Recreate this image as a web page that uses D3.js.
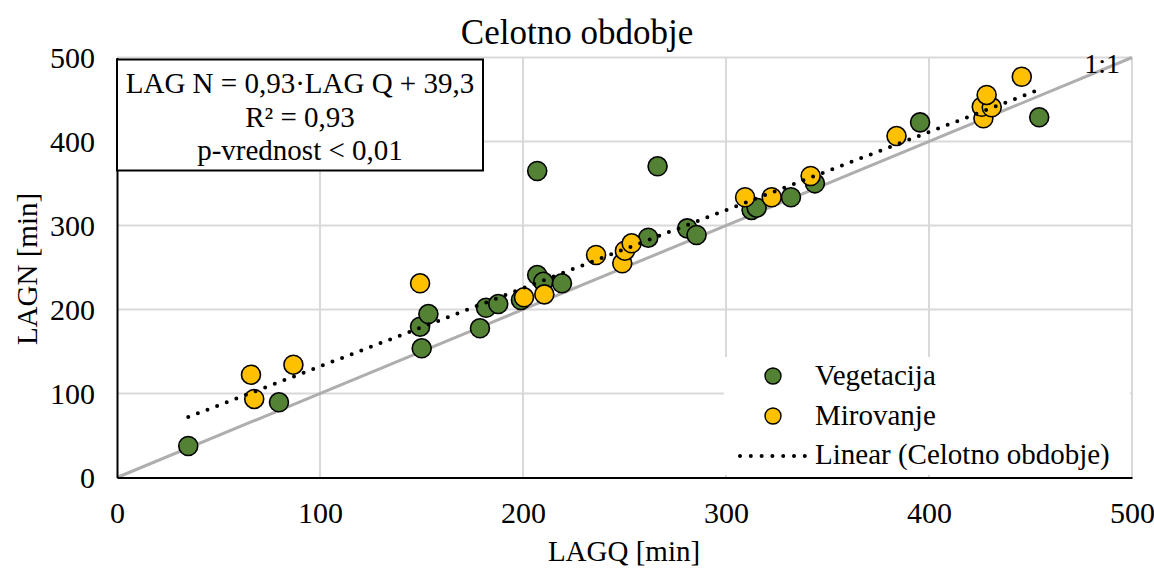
<!DOCTYPE html>
<html>
<head>
<meta charset="utf-8">
<script src="https://cdn.jsdelivr.net/npm/d3@7"></script>
<style>
  html, body { margin: 0; padding: 0; background: #fff; }
  svg { display: block; font-family: "Liberation Serif", "Times New Roman", serif; }
</style>
</head>
<body>
<svg id="chart" width="1154" height="568"></svg>
<script>
// ---- data ----
const vegX = [35.1, 79.8, 150.1, 149.3, 153.4, 178.8, 181.8, 187.8, 199.0, 207.0, 210.0, 219.2, 207.0, 266.3, 261.7, 280.9, 285.5, 312.6, 315.1, 332.0, 343.8, 395.6, 454.3];
const vegY = [37.5, 89.5, 153.8, 179.5, 194.6, 177.6, 202.1, 206.5, 211.3, 241.0, 233.0, 231.2, 364.9, 370.5, 285.5, 296.6, 288.7, 318.5, 321.2, 333.6, 350.2, 422.8, 428.8];
const mirX = [66.0, 67.6, 86.9, 149.3, 200.5, 210.5, 236.0, 248.9, 250.2, 253.5, 309.4, 322.5, 341.7, 384.0, 426.8, 426.0, 430.9, 428.4, 445.7];
const mirY = [122.4, 93.5, 134.3, 231.2, 214.5, 218.0, 264.9, 255.0, 270.0, 278.8, 333.6, 333.6, 358.9, 406.5, 427.6, 441.4, 440.7, 455.4, 477.1];
const xTicks = [0, 100, 200, 300, 400, 500];
const yTicks = [0, 100, 200, 300, 400, 500];
const trendSlope = 0.93;
const trendIntercept = 39.3;
const titleText = "Celotno obdobje";
const xLabel = "LAGQ [min]";
const yLabel = "LAGN [min]";
const eqLines = ["LAG N = 0,93\u00B7LAG Q + 39,3", "R\u00B2 = 0,93", "p-vrednost < 0,01"];
const legendLabels = ["Vegetacija", "Mirovanje", "Linear (Celotno obdobje)"];

// ---- layout ----
const svg = d3.select("#chart");
const L = 117, R = 1132, T = 57.5, B = 477.5;
const x = d3.scaleLinear().domain([0, 500]).range([L, R]);
const y = d3.scaleLinear().domain([0, 500]).range([B, T]);
const green = "#548235", yellow = "#FFC000";

// gridlines
svg.append("g").selectAll("line.v").data(xTicks.filter(d => d > 0)).join("line")
  .attr("x1", d => x(d)).attr("x2", d => x(d)).attr("y1", T).attr("y2", B)
  .attr("stroke", "#d9d9d9").attr("stroke-width", 2);
svg.append("g").selectAll("line.h").data(yTicks.filter(d => d > 0)).join("line")
  .attr("x1", L).attr("x2", R).attr("y1", d => y(d)).attr("y2", d => y(d))
  .attr("stroke", "#d9d9d9").attr("stroke-width", 2);

// 1:1 line
svg.append("line")
  .attr("x1", x(0)).attr("y1", y(0)).attr("x2", x(500)).attr("y2", y(500))
  .attr("stroke", "#b0adad").attr("stroke-width", 3);

// axes
const xAxis = d3.axisBottom(x).tickValues(xTicks).tickSize(0).tickPadding(0);
const gx = svg.append("g").attr("transform", `translate(0,${B})`).call(xAxis);
gx.select(".domain").attr("stroke", "#000").attr("stroke-width", 2);
gx.selectAll("text").attr("font-size", 30).attr("font-family", "Liberation Serif")
  .attr("fill", "#000").attr("y", 45).attr("dy", 0);

const yAxis = d3.axisLeft(y).tickValues(yTicks).tickSize(0).tickPadding(22);
const gy = svg.append("g").attr("transform", `translate(${L},0)`).call(yAxis);
gy.select(".domain").attr("stroke", "#000").attr("stroke-width", 2);
gy.selectAll("text").attr("font-size", 30).attr("font-family", "Liberation Serif")
  .attr("fill", "#000").attr("dy", "0.33em");

// label 1:1
svg.append("text").attr("x", 1120).attr("y", 73).attr("text-anchor", "end")
  .attr("font-size", 28).text("1:1");

// points
const veg = vegX.map((v, i) => ({x: v, y: vegY[i]}));
const mir = mirX.map((v, i) => ({x: v, y: mirY[i]}));
svg.append("g").selectAll("circle").data(veg).join("circle")
  .attr("cx", d => x(d.x)).attr("cy", d => y(d.y)).attr("r", 9.5)
  .attr("fill", green).attr("stroke", "#000").attr("stroke-width", 1.6);
svg.append("g").selectAll("circle").data(mir).join("circle")
  .attr("cx", d => x(d.x)).attr("cy", d => y(d.y)).attr("r", 9.5)
  .attr("fill", yellow).attr("stroke", "#000").attr("stroke-width", 1.6);

// trendline
const allX = vegX.concat(mirX);
const x0 = d3.min(allX), x1 = d3.max(allX);
svg.append("line")
  .attr("x1", x(x0)).attr("y1", y(trendSlope * x0 + trendIntercept))
  .attr("x2", x(x1)).attr("y2", y(trendSlope * x1 + trendIntercept))
  .attr("stroke", "#000").attr("stroke-width", 4)
  .attr("stroke-linecap", "round").attr("stroke-dasharray", "0,10.3");

// equation box
svg.append("rect").attr("x", 117).attr("y", 59.5).attr("width", 366).attr("height", 111)
  .attr("fill", "#fff").attr("stroke", "#000").attr("stroke-width", 2);
svg.append("g").selectAll("text").data(eqLines).join("text")
  .attr("x", 300).attr("y", (d, i) => [93, 127, 160][i])
  .attr("text-anchor", "middle").attr("font-size", 29).text(d => d);

// legend
svg.append("rect").attr("x", 724).attr("y", 357).attr("width", 406).attr("height", 118).attr("fill", "#fff");
const lg = svg.append("g");
[green, yellow].forEach((c, i) => {
  lg.append("circle").attr("cx", 773).attr("cy", 376 + i * 40).attr("r", 8)
    .attr("fill", c).attr("stroke", "#000").attr("stroke-width", 1.4);
});
lg.append("line").attr("x1", 740).attr("x2", 806).attr("y1", 456).attr("y2", 456)
  .attr("stroke", "#000").attr("stroke-width", 4)
  .attr("stroke-linecap", "round").attr("stroke-dasharray", "0,10.8");
lg.selectAll("text").data(legendLabels).join("text")
  .attr("x", 815).attr("y", (d, i) => [385, 425, 464][i])
  .attr("font-size", 29).text(d => d);

// title and axis labels
svg.append("text").attr("x", 577).attr("y", 44).attr("text-anchor", "middle")
  .attr("font-size", 35).text(titleText);
svg.append("text").attr("x", 624).attr("y", 561).attr("text-anchor", "middle")
  .attr("font-size", 29).text(xLabel);
svg.append("text").attr("transform", "translate(37,269) rotate(-90)")
  .attr("text-anchor", "middle").attr("font-size", 29).text(yLabel);
</script>
</body>
</html>
